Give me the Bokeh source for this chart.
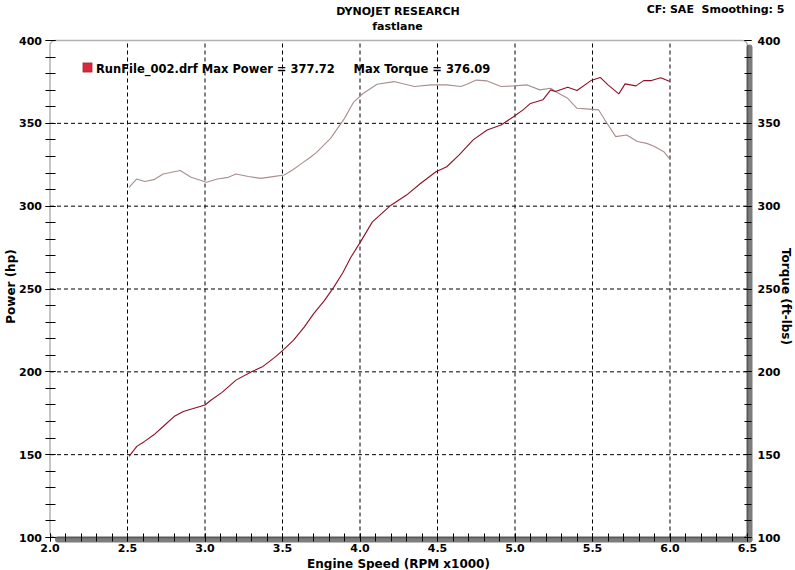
import math
from bokeh.plotting import figure
from bokeh.models import Range1d, LinearAxis, FixedTicker, Label, BoxAnnotation
from bokeh.embed import file_html
from bokeh.resources import INLINE

# ---------------- data (read from the dyno sheet) ----------------
rpm_power = [2.51, 2.56, 2.61, 2.67, 2.73, 2.80, 2.86, 2.93, 3.00, 3.04, 3.11, 3.20, 3.30,
             3.37, 3.45, 3.50, 3.57, 3.64, 3.70, 3.77, 3.83, 3.89, 3.94, 4.00, 4.08, 4.20,
             4.30, 4.39, 4.49, 4.56, 4.64, 4.73, 4.82, 4.91, 4.99, 5.05, 5.10, 5.18, 5.23,
             5.26, 5.34, 5.40, 5.49, 5.55, 5.60, 5.67, 5.71, 5.78, 5.83, 5.88, 5.94, 6.00]
power_hp = [149, 155, 158, 162, 167, 173, 176, 178, 180, 183, 187.6, 195, 200,
            203, 208.7, 212.8, 219, 227, 235, 243, 251, 260, 269, 278, 290.5, 300.6,
            306.7, 313.7, 320.8, 323.8, 330.9, 340, 346, 349, 354, 358, 362, 364.2, 370.2,
            369.2, 371.8, 369.8, 375.8, 377.7, 373.2, 367.8, 373.8, 372.6, 375.8, 375.8, 377.5, 375.2]

rpm_torque = [2.51, 2.56, 2.61, 2.67, 2.73, 2.84, 2.91, 3.01, 3.08, 3.15, 3.20, 3.28, 3.36,
              3.45, 3.51, 3.56, 3.62, 3.68, 3.72, 3.81, 3.90, 3.96, 4.02, 4.11, 4.22, 4.35,
              4.46, 4.56, 4.65, 4.69, 4.75, 4.82, 4.91, 4.99, 5.08, 5.16, 5.23, 5.28, 5.34,
              5.40, 5.46, 5.54, 5.58, 5.65, 5.72, 5.79, 5.85, 5.90, 5.96, 6.00]
torque_ftlb = [311.4, 316.4, 314.9, 316, 319.4, 321.5, 317.4, 314.4, 316.4, 317.4, 319.4, 317.9, 316.8,
               318, 318.8, 321.5, 325.5, 329.5, 332.5, 340.9, 353, 363, 368, 373.6, 375.2, 372.2,
               373.2, 373.2, 372.2, 373.6, 376.1, 375.6, 372.2, 372.6, 373.2, 370.2, 371.2, 368.2, 365.1,
               359.1, 358.7, 358.1, 352, 342, 343, 339, 337.9, 336, 332.9, 328.2]

x_ticks = [2.0, 2.5, 3.0, 3.5, 4.0, 4.5, 5.0, 5.5, 6.0, 6.5]
x_tick_labels = ["2.0", "2.5", "3.0", "3.5", "4.0", "4.5", "5.0", "5.5", "6.0", "6.5"]
x_minor = [round(2.0 + 0.1 * i, 1) for i in range(46)]
y_ticks = [100, 150, 200, 250, 300, 350, 400]
y_minor = list(range(100, 401, 10))

title_1 = "DYNOJET RESEARCH"
title_2 = "fastlane"
corner_text = "CF: SAE\u00a0 Smoothing: 5"
legend_run = "RunFile_002.drf Max Power = 377.72"
legend_torque = "Max Torque = 376.09"
x_label = "Engine Speed (RPM x1000)"
y_label_left = "Power (hp)"
y_label_right = "Torque (ft-lbs)"

# ---------------- layout (pixel box of the plotting area) ----------------
W, H = 795, 570
PL, PR, PT, PB = 49.5, 747.0, 40.0, 537.0
X0, X1, Y0, Y1 = 2.0, 6.5, 100, 400
KX = (X1 - X0) / (PR - PL)
KY = (Y1 - Y0) / (PB - PT)


def dx(px):
    return X0 + (px - PL) * KX


def dy(py):
    return Y1 - (py - PT) * KY


FONT = "DejaVu Sans"
POWER_COLOR = "#8e1024"
TORQUE_COLOR = "#ab8e8e"

p = figure(width=W, height=H,
           x_range=Range1d(dx(0), dx(W)), y_range=Range1d(dy(H), dy(0)),
           output_backend="svg", toolbar_location=None,
           x_axis_location=None, y_axis_location=None, min_border=0)
p.extra_y_ranges = {"torque": Range1d(dy(H), dy(0))}
p.outline_line_color = None
p.background_fill_color = "white"
p.border_fill_color = "white"
p.xgrid.visible = False
p.ygrid.visible = False

# shadow (right / bottom) below everything
GRAY = "#7d7d7d"
p.add_layout(BoxAnnotation(left=dx(PR - 1), right=dx(PR + 5), top=dy(PT + 4), bottom=dy(PB + 5),
                           fill_color=GRAY, fill_alpha=1, line_color=None, level="underlay",
                           border_radius=3))
p.add_layout(BoxAnnotation(left=dx(PL + 5), right=dx(PR + 5), top=dy(PB - 1), bottom=dy(PB + 5),
                           fill_color=GRAY, fill_alpha=1, line_color=None, level="underlay",
                           border_radius=3))

# dashed grid at the inner major ticks
gx = x_ticks[1:-1]
gy = y_ticks[1:-1]
p.segment(x0=gx, y0=[Y0] * len(gx), x1=gx, y1=[Y1] * len(gx),
          line_color="black", line_dash="4 3", line_width=1)
p.segment(x0=[X0] * len(gy), y0=gy, x1=[X1] * len(gy), y1=gy,
          line_color="black", line_dash="4 3", line_width=1)

# axes (library axes pinned to the plot box)
left = LinearAxis(fixed_location=X0, bounds=(Y0, Y1),
                  ticker=FixedTicker(ticks=y_ticks, minor_ticks=y_minor))
right = LinearAxis(fixed_location=X1, bounds=(Y0, Y1), y_range_name="torque",
                   ticker=FixedTicker(ticks=y_ticks, minor_ticks=y_minor))
bottom = LinearAxis(fixed_location=Y0, bounds=(X0, X1),
                    ticker=FixedTicker(ticks=x_ticks, minor_ticks=x_minor))
bottom.major_label_overrides = {t: l for t, l in zip(x_ticks, x_tick_labels)}
p.add_layout(left, "left")
p.add_layout(right, "right")
p.add_layout(bottom, "below")

for ax in [left, right, bottom]:
    ax.axis_line_color = None
    ax.major_tick_line_color = "black"
    ax.minor_tick_line_color = "black"
    ax.major_label_text_font = FONT
    ax.major_label_text_font_style = "bold"
    ax.major_label_text_font_size = "11px"
    ax.major_label_text_color = "black"

left.major_tick_in = 5
left.major_tick_out = 5
left.minor_tick_in = 5
left.minor_tick_out = 5
left.major_label_standoff = 3

right.major_tick_in = 3
right.major_tick_out = 4
right.minor_tick_in = 3
right.minor_tick_out = 4
right.major_label_standoff = 6

bottom.major_tick_in = 4
bottom.major_tick_out = 4
bottom.minor_tick_in = 4
bottom.minor_tick_out = 4
bottom.major_label_standoff = 2

# curves
p.line(rpm_torque, torque_ftlb, line_color=TORQUE_COLOR, line_width=1.1, y_range_name="torque")
p.line(rpm_power, power_hp, line_color=POWER_COLOR, line_width=1.1)

# rounded frame
p.add_layout(BoxAnnotation(left=X0, right=X1, bottom=Y0, top=Y1, fill_alpha=0,
                           line_color="black", line_width=1.5, border_radius=5))

# legend swatch
p.add_layout(BoxAnnotation(left=dx(82.3), right=dx(91.7), top=dy(62.3), bottom=dy(71.7),
                           fill_color="#d8283a", fill_alpha=1, line_color="#700010", line_width=1))


def lab(text, fx, fy, align="left", angle=0.0, size="11px"):
    p.add_layout(Label(x=dx(fx), y=dy(fy), text=text, text_align=align, text_baseline="middle",
                       angle=angle, text_font=FONT, text_font_size=size, text_font_style="bold",
                       text_color="black"))


lab(legend_run, 95.5, 68, size="11.5px")
lab(legend_torque, 353, 68, size="11.5px")
lab(title_1, 397.5, 10.5, "center")
lab(title_2, 397, 26, "center")
lab(corner_text, 784, 9, "right")
lab(y_label_left, 10, 286, "center", angle=math.pi / 2, size="12px")
lab(y_label_right, 785, 296, "center", angle=-math.pi / 2, size="12px")
lab(x_label, 398, 563, "center", size="12px")

open("out.html", "w").write(file_html(p, INLINE))
